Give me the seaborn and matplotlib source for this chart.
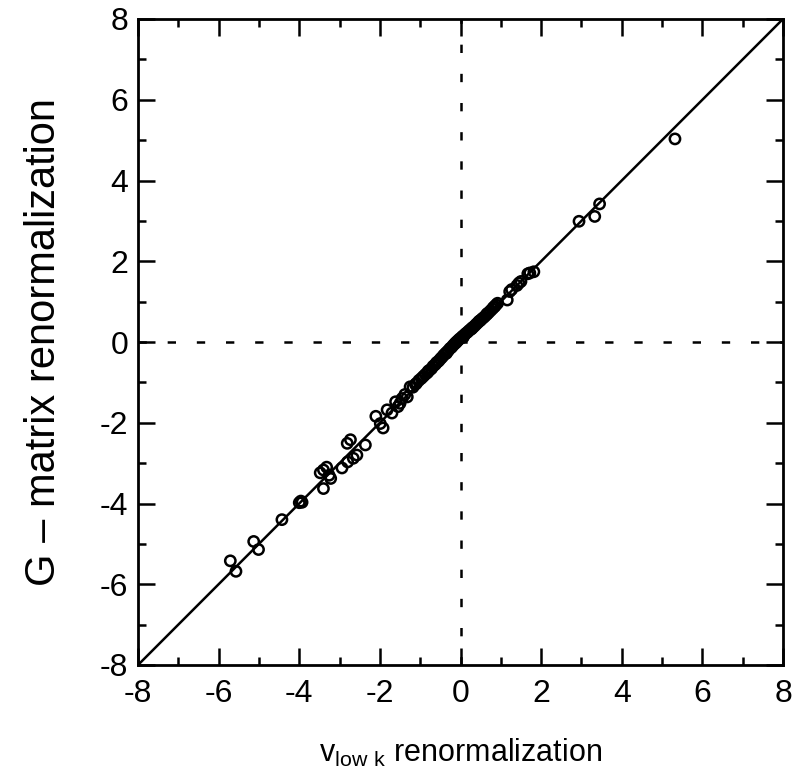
import matplotlib
matplotlib.use("Agg")
import matplotlib.pyplot as plt
from matplotlib.ticker import MultipleLocator
import seaborn as sns
import pandas as pd

# Matrix elements: v_low k renormalization vs G-matrix renormalization
v_lowk = [
    -5.71, -5.57, -5.13, -5.01, -4.43, -4.00, -3.96, -3.93, -3.40, -3.48,
    -3.40, -3.32, -3.26, -3.22, -2.94, -2.80, -2.66, -2.81, -2.73, -2.57,
    -2.36, -2.10, -1.99, -1.92, -1.82, -1.70, -1.61, -1.50, -1.45, -1.32,
    -1.25, -1.18, -1.09, -1.03, -0.97, -0.92, -0.87, -0.82, -0.77, -0.72,
    -0.68, -0.63, -0.58, -0.54, -0.50, -0.46, -0.42, -0.38, -0.34, -0.30,
    -0.26, -0.22, -0.18, -0.14, -0.10, -0.07, -0.03, 0.01, 0.05, 0.09,
    0.13, 0.17, 0.21, 0.25, 0.29, 0.33, 0.37, 0.41, 0.45, 0.50,
    0.54, 0.59, 0.64, 0.69, 0.74, 0.79, 0.85, 0.88, 0.92, 1.16,
    1.22, 1.27, 1.40, 1.45, 1.50, 1.67, 1.72, 1.82, 2.94, 3.33,
    3.45, 5.32, -1.55, -1.38, -1.12, -0.80, -0.60, -0.35, -0.12, 0.07,
    0.28, 0.47, 0.66, 0.82,
]
g_matrix = [
    -5.42, -5.68, -4.94, -5.14, -4.40, -3.98, -3.94, -3.97, -3.63, -3.24,
    -3.17, -3.10, -3.30, -3.38, -3.12, -2.97, -2.88, -2.51, -2.42, -2.80,
    -2.55, -1.84, -2.02, -2.13, -1.68, -1.76, -1.48, -1.52, -1.40, -1.36,
    -1.11, -1.12, -1.02, -0.95, -0.90, -0.85, -0.80, -0.76, -0.70, -0.66,
    -0.60, -0.56, -0.50, -0.47, -0.42, -0.38, -0.33, -0.29, -0.25, -0.21,
    -0.16, -0.13, -0.08, -0.04, 0.00, 0.03, 0.07, 0.10, 0.14, 0.17,
    0.21, 0.24, 0.28, 0.31, 0.35, 0.38, 0.42, 0.46, 0.50, 0.54,
    0.58, 0.62, 0.67, 0.72, 0.77, 0.82, 0.88, 0.92, 0.96, 1.04,
    1.25, 1.30, 1.40, 1.46, 1.50, 1.69, 1.71, 1.74, 2.99, 3.11,
    3.42, 5.03, -1.60, -1.30, -1.05, -0.72, -0.52, -0.28, -0.02, 0.12,
    0.33, 0.52, 0.70, 0.86,
]

axis_ticks = [-8, -6, -4, -2, 0, 2, 4, 6, 8]
x_label = r"$\mathregular{v_{low\ k}}$ renormalization"
y_label = "G – matrix renormalization"

sns.set_theme(style="white")
plt.rcParams["font.family"] = ["Liberation Sans", "DejaVu Sans"]
plt.rcParams["mathtext.fontset"] = "custom"
plt.rcParams["mathtext.rm"] = "Liberation Sans"
plt.rcParams["lines.scale_dashes"] = False

df = pd.DataFrame({"vlowk": v_lowk, "gmat": g_matrix})

fig = plt.figure(figsize=(7.92, 7.84), dpi=100)
ax = fig.add_axes([138 / 792, 119 / 784, 645 / 792, 646 / 784])

# reference lines: identity diagonal and dashed zero axes
ax.axline((0, 0), slope=1, color="black", lw=1.8, zorder=1)
ax.axhline(0, color="black", lw=1.8, dashes=(6, 15), zorder=1)
ax.axvline(0, color="black", lw=1.8, dashes=(6, 15), zorder=1)

sns.scatterplot(data=df, x="vlowk", y="gmat", ax=ax, marker="o", s=55,
                facecolors="none", edgecolor="black", linewidth=1.8,
                zorder=3, legend=False)

ax.set_xlim(-8, 8)
ax.set_ylim(-8, 8)
ax.set_xticks(axis_ticks)
ax.set_yticks(axis_ticks)
ax.set_xticklabels([str(t) for t in axis_ticks])
ax.set_yticklabels([str(t) for t in axis_ticks])
ax.xaxis.set_minor_locator(MultipleLocator(1))
ax.yaxis.set_minor_locator(MultipleLocator(1))
ax.tick_params(which="both", direction="in", top=True, right=True,
               bottom=True, left=True, color="black", width=1.8,
               labelsize=23, labelcolor="black")
ax.tick_params(which="major", length=12)
ax.tick_params(axis="x", which="major", pad=10)
ax.tick_params(axis="y", which="major", pad=7)
ax.tick_params(which="minor", length=6)
for sp in ax.spines.values():
    sp.set_color("black")
    sp.set_linewidth(2)

ax.set_xlabel(x_label, fontsize=22, color="black", labelpad=20)
ax.set_ylabel(y_label, fontsize=30, color="black", labelpad=26)

fig.savefig("out.png", dpi=100, facecolor="white")
